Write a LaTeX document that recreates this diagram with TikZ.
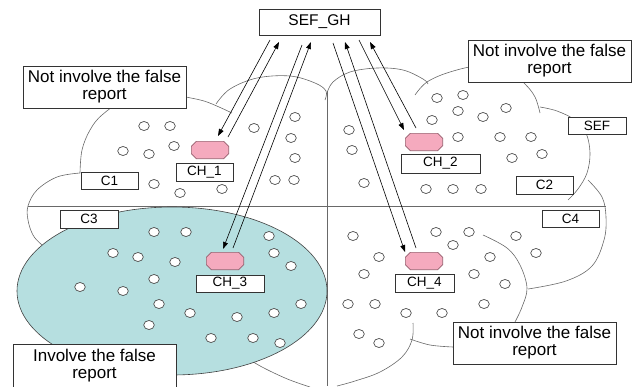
\documentclass[tikz,border=0pt]{standalone}
\usepackage{fontspec}
\setmainfont{Liberation Sans}
\usetikzlibrary{arrows.meta}

\definecolor{chpink}{RGB}{245,170,190}
\definecolor{chedge}{RGB}{150,95,110}
\definecolor{fakefill}{RGB}{182,223,224}
\definecolor{cloudline}{RGB}{105,105,105}

\tikzset{
  lbl/.style={draw=black!80, fill=white, inner sep=0pt, line width=0.6pt, font=\fontsize{13.5}{14}\selectfont},
  note/.style={draw=black!80, fill=white, inner sep=0pt, line width=0.6pt, align=center, minimum width=163pt, minimum height=42pt, font=\fontsize{17}{17}\selectfont},
  head/.style={minimum width=37pt, minimum height=17pt, inner sep=0pt},
  headshape/.style={draw=chedge, fill=chpink, line width=0.6pt},
  sensor/.style={draw=black!70, fill=white, line width=0.7pt},
  cloud/.style={draw=cloudline, line width=0.6pt},
  msg/.style={-{Triangle[length=7pt,width=5pt]}, line width=0.6pt}
}

\begin{document}
\begin{tikzpicture}[x=1pt,y=-1pt]
  \useasboundingbox (0,0) rectangle (637,386);

  % outline of the field (cloud made of bumps)
  \draw[cloud] plot[smooth, tension=0.6] coordinates {(80,173) (82,150) (90,130) (102,115) (125,100) (160,92) (186,97) (207,102) (232,113)};
  \draw[cloud] plot[smooth, tension=0.6] coordinates {(216,104) (230,89) (257,78) (290,76) (315,83) (326,91) (325,100)};
  \draw[cloud] plot[smooth, tension=0.6] coordinates {(327,93) (333,82) (350,72) (377,68) (403,70) (423,79) (428,84)};
  \draw[cloud] plot[smooth, tension=0.6] coordinates {(415,95) (427,82) (450,72) (480,66) (510,72) (525,84) (535,97) (540,113)};
  \draw[cloud] plot[smooth, tension=0.6] coordinates {(540,107) (557,111) (575,120) (586,133) (590,153) (587,173) (578,189) (568,200)};
  \draw[cloud] plot[smooth, tension=0.6] coordinates {(588,180) (602,197) (606,217) (604,240) (592,266) (566,281) (528,289)};
  \draw[cloud] plot[smooth, tension=0.6] coordinates {(483,235) (507,248) (520,265) (527,288) (522,307) (515,322)};
  \draw[cloud] plot[smooth, tension=0.6] coordinates {(413,323) (412,340) (402,357) (380,372) (355,381) (337,386)};
  \draw[cloud] plot[smooth, tension=0.6] coordinates {(410,339) (430,345) (453,347)};
  \draw[cloud] plot[smooth, tension=0.6] coordinates {(240,350) (255,363) (285,378) (310,387)};
  \draw[cloud] plot[smooth, tension=0.6] coordinates {(80,173) (57,177) (37,190) (28,206) (28,220) (33,235) (42,245) (60,260)};

  % lines dividing the four clusters
  \draw[cloud] (28,206) -- (606,206);
  \draw[cloud] (327,91) -- (327,386);

  % cluster with the false report
  \draw[draw=black!75, fill=fakefill, line width=0.6pt] (172,291) ellipse [x radius=155, y radius=84];

  % sensor nodes
  \foreach \x/\y in {144/126,170/126,123/151,149/154,174/146,154/184,180/193,222/189,254/128,295/117,291/138,295/158,275/180,294/180}
    \draw[sensor] (\x,\y) ellipse [x radius=5.3, y radius=4.5];
  \foreach \x/\y in {437/98,463/95,432/120,458/111,483/117,506/108,349/130,352/150,458/137,500/137,531/137,512/158,542/154,364/183,426/189,453/189,481/189}
    \draw[sensor] (\x,\y) ellipse [x radius=5.3, y radius=4.5];
  \foreach \x/\y in {154/232,186/232,269/236,113/253,138/257,175/262,274/253,291/266,154/279,80/287,123/291,159/304,190/313,237/317,274/313,301/304,149/325,211/338,253/338,280/343}
    \draw[sensor] (\x,\y) ellipse [x radius=5.3, y radius=4.5];
  \foreach \x/\y in {353/236,436/232,469/232,453/245,516/236,536/253,379/257,490/257,364/274,474/274,505/284,348/304,375/304,406/313,442/313,484/304,359/334,379/343}
    \draw[sensor] (\x,\y) ellipse [x radius=5.3, y radius=4.5];

  % base station and labels
  \node[lbl, minimum width=121pt, minimum height=26pt, font=\fontsize{15.5}{16}\selectfont] (sefgh) at (319.5,22) {SEF\_GH};
  \node[lbl, minimum width=58pt, minimum height=17pt] (sef) at (597,125.5) {SEF};
  \node[lbl, minimum width=57pt, minimum height=17pt] (c1) at (109.5,180.5) {C1};
  \node[lbl, minimum width=57pt, minimum height=18pt] (c2) at (544.5,185) {C2};
  \node[lbl, minimum width=58pt, minimum height=18pt] (c3) at (89,219) {C3};
  \node[lbl, minimum width=57pt, minimum height=17pt] (c4) at (570.5,218.5) {C4};

  % cluster heads (octagons)
  \node[head] (oct1) at (210,150) {};
  \node[head] (oct2) at (424,142) {};
  \node[head] (oct3) at (225,261) {};
  \node[head] (oct4) at (424,261) {};
  \foreach \o in {oct1,oct2,oct3,oct4}
    \draw[headshape] ([xshift=5pt]\o.north west) -- ([xshift=-5pt]\o.north east)
      -- ([yshift=-5pt]\o.north east) -- ([yshift=5pt]\o.south east)
      -- ([xshift=-5pt]\o.south east) -- ([xshift=5pt]\o.south west)
      -- ([yshift=5pt]\o.south west) -- ([yshift=-5pt]\o.north west) -- cycle;
  \node[lbl, minimum width=57pt, minimum height=18pt] (ch1) at (204.5,172) {CH\_1};
  \node[lbl, minimum width=79pt, minimum height=19pt] (ch2) at (440.5,163.5) {CH\_2};
  \node[lbl, minimum width=68pt, minimum height=17pt] (ch3) at (230,283.5) {CH\_3};
  \node[lbl, minimum width=59pt, minimum height=18pt] (ch4) at (424.5,283) {CH\_4};

  % notes
  \node[note] (noteA) at (104.5,87) {Not involve the false\\report};
  \node[note] (noteB) at (549.5,61) {Not involve the false\\report};
  \node[note] (noteC) at (534.5,343) {Not involve the false\\report};
  \node[note, minimum height=43pt] (noteD) at (94.5,365.5) {Involve the false\\report};

  % reports between the cluster heads and SEF_GH
  \coordinate (d1s) at (270,40);  \coordinate (d1e) at (218,136);
  \coordinate (u1s) at (228,137); \coordinate (u1e) at (279,42);
  \coordinate (d3s) at (302,45);  \coordinate (d3e) at (223,249);
  \coordinate (u3s) at (233,248); \coordinate (u3e) at (311,42);
  \coordinate (d4s) at (333,43);  \coordinate (d4e) at (405,252);
  \coordinate (u4s) at (416,248); \coordinate (u4e) at (345,42);
  \coordinate (d2s) at (359,40);  \coordinate (d2e) at (404,130);
  \coordinate (u2s) at (416,128); \coordinate (u2e) at (370,42);
  \draw[msg] (d1s) -- (d1e);
  \draw[msg] (u1s) -- (u1e);
  \draw[msg] (d3s) -- (d3e);
  \draw[msg] (u3s) -- (u3e);
  \draw[msg] (d4s) -- (d4e);
  \draw[msg] (u4s) -- (u4e);
  \draw[msg] (d2s) -- (d2e);
  \draw[msg] (u2s) -- (u2e);
\end{tikzpicture}
\end{document}
